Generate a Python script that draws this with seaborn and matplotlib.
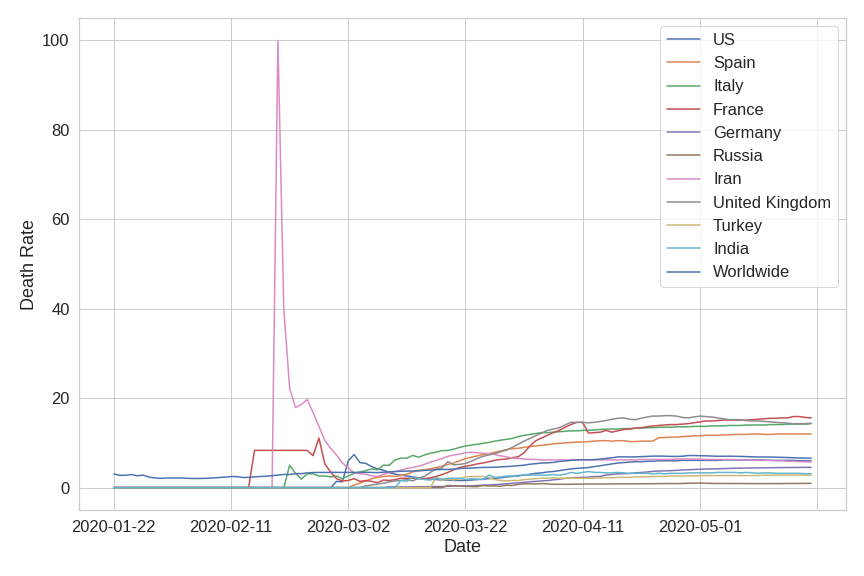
import matplotlib
matplotlib.use("Agg")
import matplotlib.pyplot as plt
import matplotlib.ticker as mticker
import pandas as pd
import seaborn as sns

# ---- data: daily death rate (%) from 2020-01-22 to 2020-05-20 (120 days) ----
dates = [d.strftime("%Y-%m-%d") for d in pd.date_range("2020-01-22", "2020-05-20", freq="D")]

us = [0, 0, 0, 0, 0, 0, 0, 0, 0, 0, 0, 0,
      0, 0, 0, 0, 0, 0, 0, 0, 0, 0, 0, 0,
      0, 0, 0, 0, 0, 0, 0, 0, 0, 0, 0, 0,
      0, 0, 1.4, 1.3, 6.0, 7.4, 5.6, 5.4, 4.7, 4.2, 3.9, 3.4,
      3.0, 2.8, 2.6, 2.4, 2.2, 2.0, 1.9, 1.8, 1.7, 1.7, 1.6, 1.6,
      1.6, 1.7, 1.8, 1.9, 2.0, 2.1, 2.2, 2.4, 2.5, 2.7, 2.8, 3.0,
      3.2, 3.3, 3.5, 3.6, 3.8, 4.0, 4.2, 4.3, 4.4, 4.5, 4.7, 4.9,
      5.1, 5.3, 5.5, 5.6, 5.7, 5.8, 5.8, 5.9, 5.9, 6.0, 6.0, 6.0,
      6.0, 6.1, 6.1, 6.1, 6.1, 6.1, 6.1, 6.1, 6.2, 6.2, 6.2, 6.2,
      6.2, 6.2, 6.2, 6.2, 6.1, 6.1, 6.1, 6.1, 6.1, 6.0, 6.0, 6.0]

spain = [0, 0, 0, 0, 0, 0, 0, 0, 0, 0, 0, 0,
         0, 0, 0, 0, 0, 0, 0, 0, 0, 0, 0, 0,
         0, 0, 0, 0, 0, 0, 0, 0, 0, 0, 0, 0,
         0, 0, 0, 0, 0, 0.6, 1.0, 1.5, 2.0, 2.3, 2.5, 2.6,
         2.5, 2.7, 3.0, 3.5, 3.9, 4.0, 4.2, 4.5, 4.8, 5.2, 5.5, 6.0,
         6.5, 6.8, 7.1, 7.4, 7.6, 7.9, 8.2, 8.5, 8.7, 8.8, 9.0, 9.2,
         9.3, 9.5, 9.6, 9.8, 9.9, 10.0, 10.1, 10.2, 10.2, 10.3, 10.4, 10.5,
         10.5, 10.4, 10.5, 10.5, 10.3, 10.3, 10.4, 10.4, 10.4, 11.2, 11.2, 11.3,
         11.3, 11.4, 11.5, 11.6, 11.6, 11.7, 11.7, 11.7, 11.8, 11.8, 11.9, 11.9,
         11.9, 12.0, 12.0, 11.9, 11.9, 12.0, 12.0, 12.0, 12.0, 12.0, 12.0, 12.0]

italy = [0, 0, 0, 0, 0, 0, 0, 0, 0, 0, 0, 0,
         0, 0, 0, 0, 0, 0, 0, 0, 0, 0, 0, 0,
         0, 0, 0, 0, 0, 0, 5.0, 3.2, 1.9, 3.1, 3.1, 2.6,
         2.6, 2.4, 2.6, 2.0, 2.6, 3.2, 3.5, 3.8, 4.2, 4.0, 5.0, 5.0,
         6.2, 6.6, 6.6, 7.2, 6.8, 7.3, 7.7, 7.9, 8.3, 8.3, 8.6, 9.0,
         9.3, 9.5, 9.7, 9.9, 10.1, 10.4, 10.6, 10.8, 11.0, 11.4, 11.7, 11.9,
         12.1, 12.3, 12.3, 12.4, 12.5, 12.6, 12.7, 12.7, 12.8, 12.8, 12.9, 13.0,
         13.1, 13.1, 13.1, 13.2, 13.2, 13.3, 13.3, 13.4, 13.4, 13.5, 13.5, 13.5,
         13.6, 13.6, 13.6, 13.7, 13.7, 13.7, 13.8, 13.8, 13.8, 13.9, 13.9, 13.9,
         14.0, 14.0, 14.0, 14.0, 14.1, 14.1, 14.1, 14.2, 14.2, 14.2, 14.2, 14.3]

france = [0, 0, 0, 0, 0, 0, 0, 0, 0, 0, 0, 0,
          0, 0, 0, 0, 0, 0, 0, 0, 0, 0, 0, 0,
          8.33, 8.33, 8.33, 8.33, 8.33, 8.33, 8.33, 8.33, 8.33, 8.33, 7.14, 11.1,
          5.3, 3.5, 2.0, 1.5, 1.6, 2.0, 1.4, 1.6, 1.4, 1.1, 1.7, 1.6,
          1.8, 2.1, 2.1, 2.1, 2.0, 2.0, 2.2, 2.5, 2.9, 3.4, 4.0, 4.5,
          4.8, 5.0, 5.3, 5.5, 5.8, 6.1, 6.3, 6.4, 6.7, 6.9, 7.8, 9.3,
          10.5, 11.1, 11.7, 12.3, 12.8, 13.5, 14.1, 14.6, 14.6, 12.2, 12.3, 12.4,
          12.8, 12.4, 12.7, 13.0, 13.1, 13.3, 13.4, 13.6, 13.8, 13.9, 14.0, 14.1,
          14.1, 14.2, 14.3, 14.5, 14.7, 14.9, 14.9, 15.0, 15.1, 15.1, 15.1, 15.1,
          15.1, 15.2, 15.3, 15.4, 15.5, 15.5, 15.6, 15.6, 15.9, 15.9, 15.7, 15.6]

germany = [0, 0, 0, 0, 0, 0, 0, 0, 0, 0, 0, 0,
           0, 0, 0, 0, 0, 0, 0, 0, 0, 0, 0, 0,
           0, 0, 0, 0, 0, 0, 0, 0, 0, 0, 0, 0,
           0, 0, 0, 0, 0, 0, 0, 0, 0, 0, 0, 0.17,
           0.14, 0.16, 0.14, 0.19, 0.2, 0.19, 0.23, 0.26, 0.23, 0.29, 0.34, 0.38,
           0.38, 0.42, 0.48, 0.55, 0.61, 0.67, 0.75, 0.86, 0.96, 1.08, 1.18, 1.31,
           1.40, 1.50, 1.58, 1.75, 1.87, 2.07, 2.21, 2.26, 2.30, 2.36, 2.46, 2.51,
           2.82, 2.94, 3.08, 3.11, 3.16, 3.31, 3.39, 3.50, 3.64, 3.72, 3.75, 3.79,
           3.86, 3.95, 4.00, 4.06, 4.11, 4.15, 4.18, 4.21, 4.25, 4.29, 4.33, 4.36,
           4.38, 4.40, 4.41, 4.43, 4.45, 4.47, 4.48, 4.50, 4.51, 4.52, 4.53, 4.53]

russia = [0, 0, 0, 0, 0, 0, 0, 0, 0, 0, 0, 0,
          0, 0, 0, 0, 0, 0, 0, 0, 0, 0, 0, 0,
          0, 0, 0, 0, 0, 0, 0, 0, 0, 0, 0, 0,
          0, 0, 0, 0, 0, 0, 0, 0, 0, 0, 0, 0,
          0, 0, 0, 0, 0, 0, 0, 0, 0, 0.5, 0.4, 0.33,
          0.27, 0.23, 0.2, 0.46, 0.36, 0.39, 0.32, 0.52, 0.49, 0.73, 0.86, 0.85,
          0.82, 0.91, 0.84, 0.74, 0.77, 0.73, 0.75, 0.79, 0.78, 0.82, 0.81, 0.81,
          0.81, 0.83, 0.85, 0.85, 0.84, 0.86, 0.86, 0.88, 0.88, 0.90, 0.91, 0.92,
          0.91, 0.93, 0.98, 1.01, 1.02, 0.99, 0.95, 0.93, 0.93, 0.93, 0.92, 0.92,
          0.92, 0.91, 0.91, 0.91, 0.91, 0.91, 0.92, 0.93, 0.93, 0.94, 0.95, 0.96]

iran = [0, 0, 0, 0, 0, 0, 0, 0, 0, 0, 0, 0,
        0, 0, 0, 0, 0, 0, 0, 0, 0, 0, 0, 0,
        0, 0, 0, 0, 100.0, 40.0, 22.2, 17.9, 18.6, 19.7, 16.8, 13.7,
        10.6, 8.8, 7.3, 5.5, 4.4, 3.3, 3.1, 3.0, 2.6, 2.5, 3.0, 3.3,
        3.6, 3.9, 4.3, 4.5, 4.8, 5.2, 5.7, 6.1, 6.5, 7.0, 7.3, 7.5,
        7.8, 7.9, 7.8, 7.7, 7.6, 7.4, 7.1, 6.9, 6.6, 6.5, 6.4, 6.3,
        6.3, 6.2, 6.2, 6.2, 6.2, 6.2, 6.2, 6.2, 6.2, 6.2, 6.2, 6.2,
        6.2, 6.2, 6.2, 6.2, 6.2, 6.2, 6.3, 6.3, 6.3, 6.3, 6.3, 6.3,
        6.4, 6.4, 6.4, 6.4, 6.4, 6.3, 6.3, 6.3, 6.3, 6.3, 6.3, 6.2,
        6.2, 6.2, 6.1, 6.1, 6.1, 6.0, 6.0, 5.9, 5.9, 5.8, 5.8, 5.7]

uk = [0, 0, 0, 0, 0, 0, 0, 0, 0, 0, 0, 0,
      0, 0, 0, 0, 0, 0, 0, 0, 0, 0, 0, 0,
      0, 0, 0, 0, 0, 0, 0, 0, 0, 0, 0, 0,
      0, 0, 0, 0, 0, 0, 0, 0.4, 0.6, 0.8, 1.0, 1.3,
      1.5, 1.6, 1.8, 1.5, 2.1, 2.5, 3.4, 4.2, 4.4, 5.8, 5.1, 5.2,
      5.4, 5.9, 6.5, 7.0, 7.3, 7.6, 8.0, 8.4, 9.0, 9.7, 10.4, 11.0,
      11.6, 12.2, 12.8, 13.1, 13.4, 14.0, 14.6, 14.6, 14.6, 14.5, 14.6, 14.8,
      15.0, 15.3, 15.5, 15.6, 15.3, 15.2, 15.5, 15.8, 16.0, 16.0, 16.1, 16.1,
      16.0, 15.7, 15.6, 15.8, 16.0, 15.9, 15.8, 15.6, 15.4, 15.2, 15.2, 15.1,
      15.0, 14.9, 14.9, 14.8, 14.7, 14.6, 14.5, 14.4, 14.3, 14.3, 14.3, 14.4]

turkey = [0, 0, 0, 0, 0, 0, 0, 0, 0, 0, 0, 0,
          0, 0, 0, 0, 0, 0, 0, 0, 0, 0, 0, 0,
          0, 0, 0, 0, 0, 0, 0, 0, 0, 0, 0, 0,
          0, 0, 0, 0, 0, 0, 0, 0, 0, 0, 0, 0,
          0, 0, 0, 0, 0, 0, 0, 2.3, 1.6, 2.0, 1.7, 2.0,
          2.4, 2.5, 2.5, 2.5, 2.2, 1.8, 1.6, 1.5, 1.6, 1.6, 1.8, 1.9,
          2.0, 2.1, 2.1, 2.2, 2.1, 2.1, 2.2, 2.1, 2.1, 2.1, 2.1, 2.2,
          2.2, 2.2, 2.3, 2.3, 2.3, 2.4, 2.4, 2.4, 2.5, 2.5, 2.5, 2.6,
          2.6, 2.6, 2.6, 2.6, 2.7, 2.7, 2.7, 2.7, 2.7, 2.7, 2.7, 2.7,
          2.7, 2.7, 2.7, 2.8, 2.8, 2.8, 2.8, 2.8, 2.8, 2.8, 2.8, 2.8]

india = [0, 0, 0, 0, 0, 0, 0, 0, 0, 0, 0, 0,
         0, 0, 0, 0, 0, 0, 0, 0, 0, 0, 0, 0,
         0, 0, 0, 0, 0, 0, 0, 0, 0, 0, 0, 0,
         0, 0, 0, 0, 0, 0, 0, 0, 0, 0, 0, 0,
         0, 1.6, 1.4, 2.4, 2.0, 1.8, 1.7, 2.1, 1.9, 2.1, 2.1, 2.1,
         1.8, 2.0, 1.9, 1.8, 2.8, 2.3, 2.4, 2.6, 2.6, 2.5, 2.9, 2.8,
         2.8, 2.8, 2.8, 2.9, 2.8, 3.0, 3.4, 3.2, 3.4, 3.6, 3.4, 3.4,
         3.3, 3.3, 3.4, 3.3, 3.2, 3.2, 3.2, 3.2, 3.1, 3.2, 3.1, 3.2,
         3.2, 3.2, 3.3, 3.3, 3.3, 3.3, 3.3, 3.4, 3.4, 3.4, 3.4, 3.3,
         3.4, 3.3, 3.2, 3.3, 3.3, 3.2, 3.2, 3.2, 3.2, 3.2, 3.1, 3.1]

worldwide = [3.06, 2.75, 2.76, 2.93, 2.64, 2.80, 2.35, 2.16, 2.08, 2.15, 2.15, 2.16,
             2.14, 2.06, 2.04, 2.06, 2.09, 2.17, 2.26, 2.37, 2.48, 2.47, 2.27, 2.28,
             2.41, 2.49, 2.55, 2.67, 2.81, 2.95, 2.93, 3.13, 3.13, 3.30, 3.37, 3.40,
             3.40, 3.41, 3.42, 3.39, 3.42, 3.40, 3.42, 3.42, 3.40, 3.36, 3.46, 3.51,
             3.59, 3.67, 3.68, 3.72, 3.73, 3.85, 3.92, 4.01, 4.07, 4.07, 4.15, 4.26,
             4.35, 4.36, 4.46, 4.53, 4.53, 4.58, 4.64, 4.71, 4.80, 4.91, 5.02, 5.23,
             5.36, 5.49, 5.55, 5.64, 5.86, 5.97, 6.10, 6.19, 6.25, 6.22, 6.27, 6.37,
             6.53, 6.68, 6.87, 6.88, 6.87, 6.88, 6.93, 6.98, 7.05, 7.05, 7.04, 6.99,
             6.98, 7.01, 7.18, 7.17, 7.14, 7.11, 7.06, 7.02, 7.02, 7.03, 7.01, 6.98,
             6.94, 6.89, 6.85, 6.85, 6.84, 6.81, 6.77, 6.73, 6.69, 6.63, 6.60, 6.57]

series_names = ["US", "Spain", "Italy", "France", "Germany", "Russia", "Iran",
                "United Kingdom", "Turkey", "India", "Worldwide"]
series_values = [us, spain, italy, france, germany, russia, iran, uk, turkey, india, worldwide]

# ---- style ----
sns.set_theme(style="whitegrid", font_scale=1.5)
plt.rcParams["font.family"] = ["Liberation Sans", "DejaVu Sans"]

fig = plt.figure(figsize=(12, 8), dpi=72)
ax = fig.add_subplot(111)
fig.subplots_adjust(left=79 / 864, right=846 / 864, bottom=66 / 576, top=558 / 576)

for name, vals in zip(series_names, series_values):
    assert len(vals) == len(dates), name
    sns.lineplot(x=dates, y=vals, label=name, ax=ax)

ax.xaxis.set_major_locator(mticker.MultipleLocator(20))
ax.set_xlabel("Date")
ax.set_ylabel("Death Rate")
ax.legend(loc="upper right")

fig.savefig("out.png", dpi=72)
